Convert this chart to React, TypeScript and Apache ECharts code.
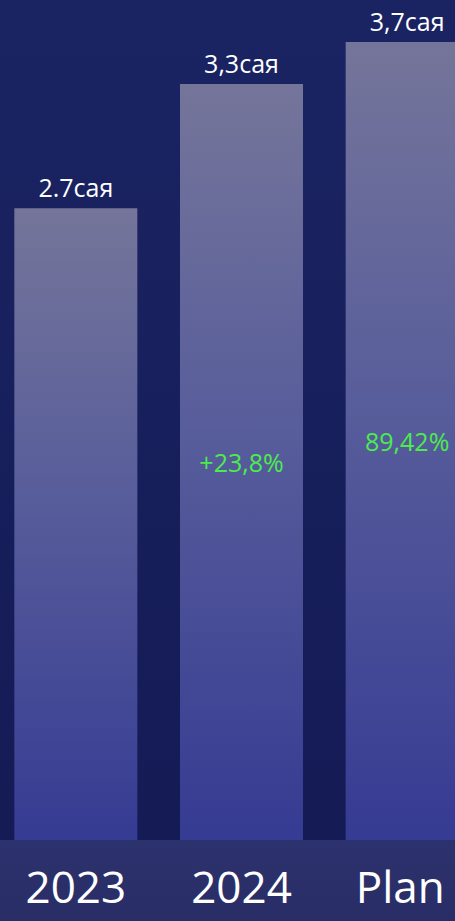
import React, { useEffect, useRef } from "react";
import * as echarts from "echarts";

const categories = ["2023", "2024", "Plan"];
// bar heights, in % of the plot height
const barValues = [75.2, 90.0, 95.0];
const valueLabels = ["2.7сая", "3,3сая", "3,7сая"];
const growthLabels = ["", "+23,8%", "89,42%"];

export default function App() {
  const ref = useRef<HTMLDivElement>(null);
  useEffect(() => {
    document.body.style.margin = "0";
    document.body.style.overflow = "hidden";
    const chart = echarts.init(ref.current!, null, { renderer: "svg" });
    const font = "'Open Sans', 'Noto Sans', sans-serif";
    chart.setOption({
      animation: false,
      grid: { left: 0, right: 0, top: 0, height: 840, containLabel: false },
      xAxis: {
        type: "category",
        data: categories.map((c, i) =>
          i === 2 ? { value: c, textStyle: { padding: [0, 14, 0, 0] } } : c
        ),
        axisLine: { show: false },
        axisTick: { show: false },
        axisLabel: {
          color: "#ffffff",
          fontSize: 44,
          fontFamily: font,
          margin: 24,
        },
      },
      yAxis: { type: "value", min: 0, max: 100, show: false, splitLine: { show: false } },
      series: [
        {
          type: "bar",
          data: barValues,
          barWidth: 123,
          itemStyle: {
            color: {
              type: "linear",
              x: 0,
              y: 0,
              x2: 0,
              y2: 1,
              colorStops: [
                { offset: 0, color: "#75759a" },
                { offset: 0.45, color: "#585d9b" },
                { offset: 1, color: "#363b93" },
              ],
            },
          },
          label: {
            show: true,
            position: "top",
            distance: 9,
            color: "#ffffff",
            fontSize: 25,
            fontFamily: font,
            formatter: (p: any) => valueLabels[p.dataIndex],
          },
        },
        {
          type: "bar",
          data: barValues,
          barWidth: 123,
          barGap: "-100%",
          silent: true,
          itemStyle: { color: "rgba(0,0,0,0)" },
          label: {
            show: true,
            position: "inside",
            color: "#4cec4c",
            fontSize: 25,
            fontFamily: font,
            formatter: (p: any) => growthLabels[p.dataIndex],
          },
        },
      ],
    });
    return () => chart.dispose();
  }, []);
  return (
    <div
      ref={ref}
      style={{
        position: "absolute",
        left: -7,
        top: 0,
        width: 497,
        height: 921,
        background:
          "linear-gradient(to bottom, #1b2463 0px, #141b55 840px, #2c326e 840px, #292d66 921px)",
      }}
    />
  );
}
